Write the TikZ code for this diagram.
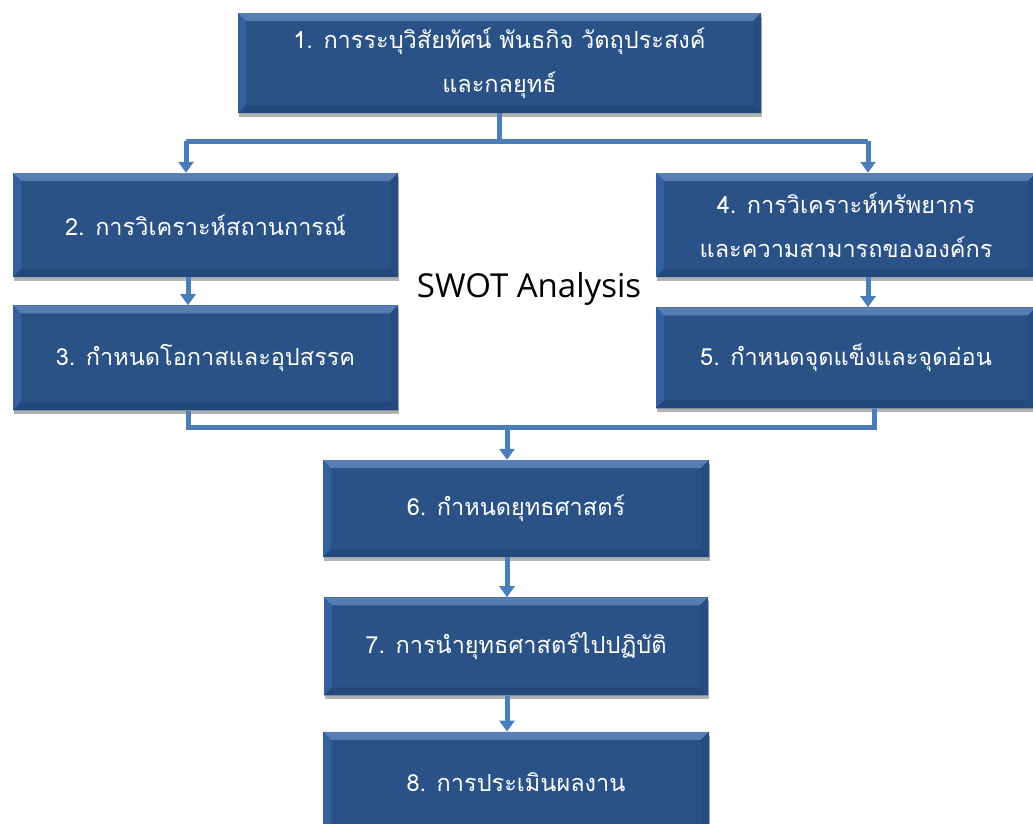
\documentclass[tikz,border=0pt]{standalone}
\usepackage{fontspec}
\newfontfamily\thaifont[Script=Thai]{Loma}
\newfontfamily\latinfont{Open Sans}
\usetikzlibrary{arrows.meta, positioning, shadows}
\definecolor{stageblue}{HTML}{2A5287}
\definecolor{bevellight}{HTML}{5A7FB6}
\definecolor{bevelside}{HTML}{3560A0}
\definecolor{beveldark}{HTML}{23487C}
\definecolor{linkblue}{HTML}{4A7EBB}

\begin{document}
\begin{tikzpicture}[
    x=1pt, y=1pt, node distance=28pt,
    stage/.style={rectangle, fill=stageblue, text=white, inner sep=0pt,
      font=\thaifont\fontsize{23.5}{44}\selectfont, align=center,
      minimum width=385pt, minimum height=104pt,
      drop shadow={shadow xshift=1pt, shadow yshift=-4pt, fill=black, opacity=0.3},
      path picture={
        \shade[top color=bevellight, bottom color=stageblue]
          (path picture bounding box.north west) -- (path picture bounding box.north east)
          -- ([shift={(-8pt,-8pt)}]path picture bounding box.north east)
          -- ([shift={(8pt,-8pt)}]path picture bounding box.north west) -- cycle;
        \fill[bevelside]
          (path picture bounding box.north west) -- ([shift={(8pt,-8pt)}]path picture bounding box.north west)
          -- ([shift={(8pt,8pt)}]path picture bounding box.south west)
          -- (path picture bounding box.south west) -- cycle;
        \fill[beveldark!60!stageblue]
          (path picture bounding box.north east) -- ([shift={(-8pt,-8pt)}]path picture bounding box.north east)
          -- ([shift={(-8pt,8pt)}]path picture bounding box.south east)
          -- (path picture bounding box.south east) -- cycle;
        \fill[beveldark]
          (path picture bounding box.south west) -- (path picture bounding box.south east)
          -- ([shift={(-8pt,8pt)}]path picture bounding box.south east)
          -- ([shift={(8pt,8pt)}]path picture bounding box.south west) -- cycle;
      }},
    link/.style={draw=linkblue, line width=5pt},
    flow/.style={link, -{Triangle[width=15pt,length=11pt]}},
    label/.style={font=\latinfont\fontsize{33}{40}\selectfont, text=black},
]
\useasboundingbox (0,0) rectangle (1033,-823);
\clip (0,0) rectangle (1033,-823);
\fill[white] (0,0) rectangle (1033,-823);

% stages
\node[stage, minimum width=523pt, minimum height=100pt] (vision) at (499.5,-63)
  {1. การระบุวิสัยทัศน์ พันธกิจ วัตถุประสงค์\\ และกลยุทธ์};
\node[stage] (envscan) at (205.5,-225) {2. การวิเคราะห์สถานการณ์};
\node[stage, below=28pt of envscan, minimum height=105pt] (opps) {3. กำหนดโอกาสและอุปสรรค};
\node[stage, minimum width=380pt] (resource) at (846,-225)
  {4. การวิเคราะห์ทรัพยากร\\ และความสามารถขององค์กร};
\node[stage, below=30pt of resource, minimum width=380pt, minimum height=101pt] (strength)
  {5. กำหนดจุดแข็งและจุดอ่อน};
\node[stage, minimum width=386pt, minimum height=97pt] (strategy) at (516,-508.5)
  {6. กำหนดยุทธศาสตร์};
\node[stage, below=40pt of strategy, minimum width=384pt, minimum height=98pt] (implement)
  {7. การนำยุทธศาสตร์ไปปฏิบัติ};
\node[stage, below=36pt of implement, minimum width=386pt, minimum height=100pt] (evaluate)
  {8. การประเมินผลงาน};
\node[label] (swot) at (529,-289) {SWOT Analysis};

% connectors
\coordinate (topL) at (186,-141);
\coordinate (topR) at (868,-141);
\coordinate (botL) at (188,-427);
\coordinate (botR) at (874,-427);
\coordinate (botM) at (507,-427);
\draw[link] (vision.south) -- (vision.south |- topL);
\draw[link] (topL) -- (topR);
\draw[flow] (topL) -- (topL |- envscan.north);
\draw[flow] (topR) -- (topR |- resource.north);
\draw[flow] (envscan.south -| botL) -- (opps.north -| botL);
\draw[flow] (resource.south -| topR) -- (strength.north -| topR);
\draw[link] (opps.south -| botL) -- (botL) -- (botR) -- (strength.south -| botR);
\draw[flow] (botM) -- (botM |- strategy.north);
\draw[flow] (strategy.south -| botM) -- (implement.north -| botM);
\draw[flow] (implement.south -| botM) -- (evaluate.north -| botM);
\end{tikzpicture}
\end{document}
